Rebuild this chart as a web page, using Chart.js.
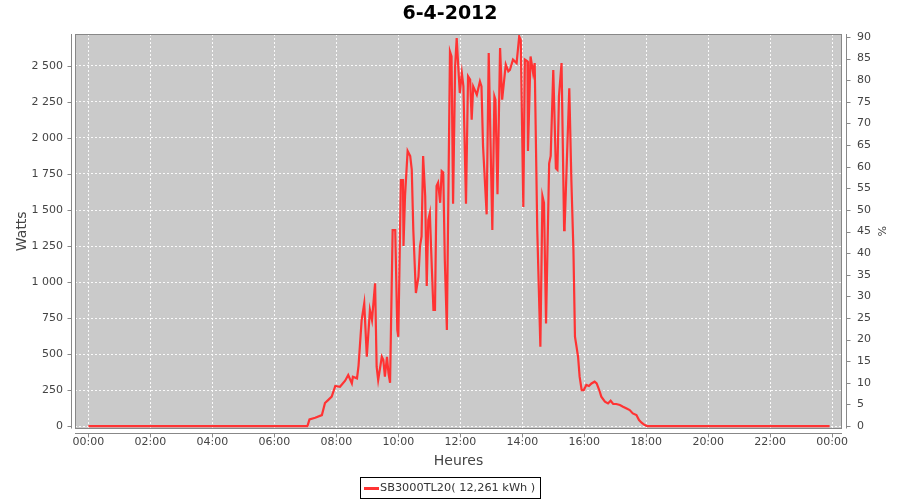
<!DOCTYPE html>
<html>
<head>
<meta charset="utf-8">
<script src="https://cdn.jsdelivr.net/npm/chart.js@4.4.1/dist/chart.umd.min.js"></script>
<style>
  html, body { margin: 0; padding: 0; background: #ffffff; }
  #wrap { position: relative; width: 900px; height: 500px; }
  #legend { position: absolute; left: 360px; top: 477px; width: 181px; height: 22px; box-sizing: border-box;
            border: 1px solid #000; font-family: "DejaVu Sans", sans-serif; font-size: 11.3px; color: #333;
            line-height: 20px; white-space: nowrap; }
  #legend .swatch { position: absolute; left: 3px; top: 9px; width: 15px; height: 3px; background: #ff3333; }
  #legend .txt { position: absolute; left: 19px; top: 0; }
</style>
</head>
<body>
<div id="wrap">
  <canvas id="c" width="900" height="500"></canvas>
  <div id="legend"><span class="swatch"></span><span class="txt">SB3000TL20( 12,261 kWh )</span></div>
</div>
<script>
const chartTitle = "6-4-2012";
const seriesName = "SB3000TL20( 12,261 kWh )";
const times = ["00:00","07:04","07:08","07:19","07:32","07:38","07:44","07:51","07:58","08:07","08:17","08:23","08:30","08:32","08:40","08:43","08:49","08:54","08:59","09:05","09:09","09:15","09:18","09:21","09:28","09:31","09:34","09:38","09:41","09:44","09:49","09:54","09:58","10:00","10:05","10:09","10:10","10:13","10:18","10:23","10:26","10:29","10:34","10:39","10:42","10:45","10:48","10:52","10:55","10:58","11:01","11:05","11:08","11:11","11:14","11:17","11:21","11:24","11:27","11:30","11:34","11:40","11:43","11:46","11:50","11:53","11:56","11:59","12:03","12:06","12:11","12:15","12:19","12:22","12:25","12:32","12:38","12:41","12:44","12:51","12:55","13:02","13:06","13:08","13:12","13:17","13:21","13:28","13:33","13:36","13:42","13:49","13:54","13:57","14:02","14:05","14:10","14:11","14:16","14:21","14:24","14:29","14:35","14:39","14:42","14:46","14:52","14:55","15:00","15:05","15:08","15:11","15:16","15:21","15:22","15:31","15:35","15:39","15:42","15:45","15:48","15:51","15:55","15:59","16:04","16:09","16:14","16:20","16:24","16:29","16:33","16:40","16:46","16:51","16:56","17:02","17:09","17:15","17:22","17:28","17:34","17:41","17:46","17:51","17:57","18:02","23:55"];
const watts = [0,0,46,58,76,160,180,204,278,273,315,354,296,342,331,420,736,852,481,806,736,991,412,319,481,458,343,481,366,300,1361,1361,667,620,1708,1708,1250,1597,1910,1875,1780,1361,924,1037,1250,1316,1875,1597,972,1430,1478,1083,806,806,1666,1690,1550,1770,1760,1153,667,2600,2566,1544,2497,2694,2497,2312,2451,2358,1544,2428,2405,2127,2358,2300,2393,2358,1944,1470,2590,1361,2289,2266,1610,2625,2266,2510,2462,2472,2544,2520,2705,2680,1521,2544,2532,1910,2566,2451,2520,1361,551,1597,1550,713,1823,1875,2472,1789,1778,2289,2520,1361,1384,2345,1708,1222,620,551,481,343,250,250,285,278,296,308,296,250,204,169,157,176,153,153,146,134,122,111,88,76,42,23,7,0,0];
const hourTicks = [0,120,240,360,480,600,720,840,960,1080,1200,1320,1440];
const wattTicks = [0,250,500,750,1000,1250,1500,1750,2000,2250,2500];
const pctTicks = [0,5,10,15,20,25,30,35,40,45,50,55,60,65,70,75,80,85,90];

const toMin = t => { const [h, m] = t.split(':').map(Number); return h * 60 + m; };
const fmtTime = v => { const h = Math.floor(v / 60) % 24, m = v % 60; return String(h).padStart(2,'0') + ':' + String(m).padStart(2,'0'); };
const fmtNum = v => String(v).replace(/\B(?=(\d{3})+(?!\d))/g, ' ');

const tickFont = { family: "DejaVu Sans", size: 11 };
const gridStyle = { color: 'rgba(255,255,255,0.9)', lineWidth: 1, drawTicks: false };
const AXIS_GRAY = '#888888';

const framePlugin = {
  id: 'frame',
  beforeDraw(chart) {
    const a = chart.chartArea, ctx = chart.ctx;
    ctx.save();
    ctx.fillStyle = '#cacaca';
    ctx.fillRect(a.left, a.top, a.right - a.left, a.bottom - a.top);
    ctx.restore();
  },
  afterDraw(chart) {
    const a = chart.chartArea, ctx = chart.ctx;
    const sx = chart.scales.x, sy = chart.scales.y, sp = chart.scales.yPct;
    ctx.save();
    ctx.strokeStyle = AXIS_GRAY;
    ctx.lineWidth = 1;
    ctx.strokeRect(Math.round(a.left) + 0.5, Math.round(a.top) + 0.5, Math.round(a.right - a.left) - 1, Math.round(a.bottom - a.top) - 1);
    const lx = Math.round(a.left) - 4 + 0.5;
    const rx = Math.round(a.right) + 4 + 0.5;
    const by = Math.round(a.bottom) + 4 + 0.5;
    ctx.beginPath();
    ctx.moveTo(lx, a.top); ctx.lineTo(lx, a.bottom);
    ctx.moveTo(rx, a.top); ctx.lineTo(rx, a.bottom);
    ctx.moveTo(a.left, by); ctx.lineTo(a.right, by);
    wattTicks.forEach(v => { const y = Math.round(sy.getPixelForValue(v)) + 0.5; ctx.moveTo(lx - 4, y); ctx.lineTo(lx, y); });
    pctTicks.forEach(v => { const y = Math.round(sp.getPixelForValue(v)) + 0.5; ctx.moveTo(rx, y); ctx.lineTo(rx + 4, y); });
    hourTicks.forEach(v => { const x = Math.round(sx.getPixelForValue(v)) + 0.5; ctx.moveTo(x, by); ctx.lineTo(x, by + 4); });
    ctx.stroke();
    ctx.restore();
  }
};

new Chart(document.getElementById('c'), {
  type: 'line',
  data: {
    datasets: [{
      label: seriesName,
      data: times.map((t, i) => ({ x: toMin(t), y: watts[i] })),
      borderColor: '#ff3333',
      borderWidth: 2.2,
      pointRadius: 0,
      tension: 0,
      fill: false,
      yAxisID: 'y'
    }]
  },
  options: {
    responsive: false,
    animation: false,
    devicePixelRatio: 1,
    layout: { padding: { left: 0, right: 0, top: 0, bottom: 30 } },
    plugins: {
      legend: { display: false },
      tooltip: { enabled: false },
      title: {
        display: true, text: chartTitle, color: '#000000',
        font: { family: "DejaVu Sans", size: 19, weight: 'bold' },
        padding: { top: 2.5, bottom: 8.7 }
      }
    },
    scales: {
      x: {
        type: 'linear', position: 'bottom', min: -26, max: 1459,
        afterBuildTicks: s => { s.ticks = hourTicks.map(v => ({ value: v })); },
        afterFit: s => { s.height = 41.5; },
        ticks: { callback: v => fmtTime(v), font: tickFont, color: '#444444', padding: 7, autoSkip: false, maxRotation: 0 },
        grid: Object.assign({}, gridStyle),
        border: { display: false, dash: [2, 2] },
        title: { display: true, text: 'Heures', color: '#444444', font: { family: "DejaVu Sans", size: 14 }, padding: { top: 0, bottom: 0.6 } }
      },
      y: {
        type: 'linear', position: 'left', min: -17, max: 2722,
        afterBuildTicks: s => { s.ticks = wattTicks.map(v => ({ value: v })); },
        afterFit: s => { s.width = 75; },
        ticks: { callback: v => fmtNum(v), font: tickFont, color: '#444444', padding: 12 },
        grid: Object.assign({}, gridStyle),
        border: { display: false, dash: [2, 2] },
        title: { display: true, text: 'Watts', color: '#444444', font: { family: "DejaVu Sans", size: 14 }, padding: { top: 13.6, bottom: 0 } }
      },
      yPct: {
        type: 'linear', position: 'right', min: -0.58, max: 90.7,
        afterBuildTicks: s => { s.ticks = pctTicks.map(v => ({ value: v })); },
        afterFit: s => { s.width = 58; },
        ticks: { font: tickFont, color: '#444444', padding: 15 },
        grid: { drawOnChartArea: false, drawTicks: false },
        border: { display: false },
        title: { display: true, text: '%', color: '#444444', font: { family: "DejaVu Sans", size: 11 }, padding: { top: 12.4, bottom: 0 } }
      }
    }
  },
  plugins: [framePlugin]
});
</script>
</body>
</html>
